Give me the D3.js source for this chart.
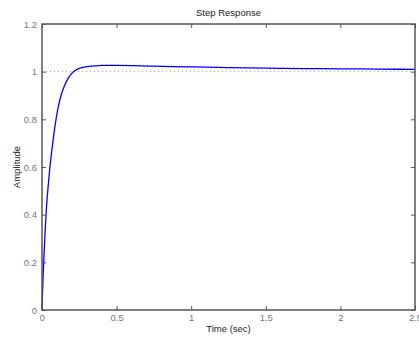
<!DOCTYPE html>
<html><head><meta charset="utf-8">
<script src="https://cdn.jsdelivr.net/npm/d3@7"></script>
<style>body{margin:0;background:#fff}svg{display:block}text{font-family:"Liberation Sans",Arial,sans-serif}</style>
</head><body>
<script>
const timeSec = [0,0.005,0.01,0.02,0.03,0.04,0.05,0.065,0.08,0.094,0.11,0.13,0.15,0.175,0.2,0.225,0.25,0.3,0.35,0.4,0.5,0.75,1.0,1.25,1.5,1.75,2.0,2.25,2.5];
const amplitude = [0,0.1,0.18,0.32,0.43,0.51,0.58,0.665,0.74,0.8,0.855,0.905,0.94,0.972,0.993,1.006,1.014,1.021,1.024,1.026,1.026,1.023,1.02,1.017,1.015,1.013,1.012,1.011,1.0095];
const xTicks = [0,0.5,1,1.5,2,2.5];
const yTicks = [0,0.2,0.4,0.6,0.8,1,1.2];
const steadyState = [1];

const W=419,H=337;
const m={l:42,r:4,t:24,b:27};
const svg=d3.select("body").append("svg").attr("width",W).attr("height",H);
const x=d3.scaleLinear().domain([0,2.5]).range([m.l,W-m.r]);
const y=d3.scaleLinear().domain([0,1.2]).range([H-m.b,m.t]);
const axisCol="#555", labCol="#777";

svg.append("rect").attr("x",m.l).attr("y",m.t).attr("width",x(2.5)-m.l).attr("height",y(0)-m.t).attr("fill","#fff");

// steady-state dotted line
svg.selectAll(".ss").data(steadyState).enter().append("line")
 .attr("x1",x(0)).attr("x2",x(2.5)).attr("y1",d=>y(d)).attr("y2",d=>y(d))
 .attr("stroke","#999").attr("stroke-width",1).attr("stroke-dasharray","1,3");

// curve
const pts=timeSec.map((t,i)=>[t,amplitude[i]]);
svg.append("path").datum(pts)
 .attr("d",d3.line().x(d=>x(d[0])).y(d=>y(d[1])).curve(d3.curveMonotoneX))
 .attr("fill","none").attr("stroke","#0000ff").attr("stroke-width",1.3);

function styleAxis(g){
  g.select(".domain").remove();
  g.selectAll(".tick line").attr("stroke",axisCol);
  g.selectAll(".tick text").attr("fill",labCol).style("font-size","9.5px");
}
// bottom
svg.append("g").attr("transform",`translate(0,${y(0)})`)
 .call(d3.axisBottom(x).tickValues(xTicks).tickFormat(d3.format("")).tickSizeInner(-4).tickPadding(4)).call(styleAxis);
// top
svg.append("g").attr("transform",`translate(0,${y(1.2)})`)
 .call(d3.axisTop(x).tickValues(xTicks).tickFormat("").tickSizeInner(-4)).call(styleAxis);
// left
svg.append("g").attr("transform",`translate(${x(0)},0)`)
 .call(d3.axisLeft(y).tickValues(yTicks).tickFormat(d3.format("")).tickSizeInner(-4).tickPadding(5)).call(styleAxis);
// right
svg.append("g").attr("transform",`translate(${x(2.5)},0)`)
 .call(d3.axisRight(y).tickValues(yTicks).tickFormat("").tickSizeInner(-4)).call(styleAxis);

// frame
svg.append("rect").attr("x",x(0)).attr("y",y(1.2)).attr("width",x(2.5)-x(0)).attr("height",y(0)-y(1.2))
 .attr("fill","none").attr("stroke",axisCol).attr("stroke-width",1.5);

svg.append("text").attr("x",(x(0)+x(2.5))/2).attr("y",16).attr("text-anchor","middle")
 .attr("fill","#222").style("font-size","9.5px").text("Step Response");
svg.append("text").attr("x",(x(0)+x(2.5))/2).attr("y",332).attr("text-anchor","middle")
 .attr("fill","#222").style("font-size","9.5px").text("Time (sec)");
svg.append("text").attr("transform",`translate(20,${(y(0)+y(1.2))/2}) rotate(-90)`).attr("text-anchor","middle")
 .attr("fill","#222").style("font-size","9.5px").text("Amplitude");
</script>
</body></html>
